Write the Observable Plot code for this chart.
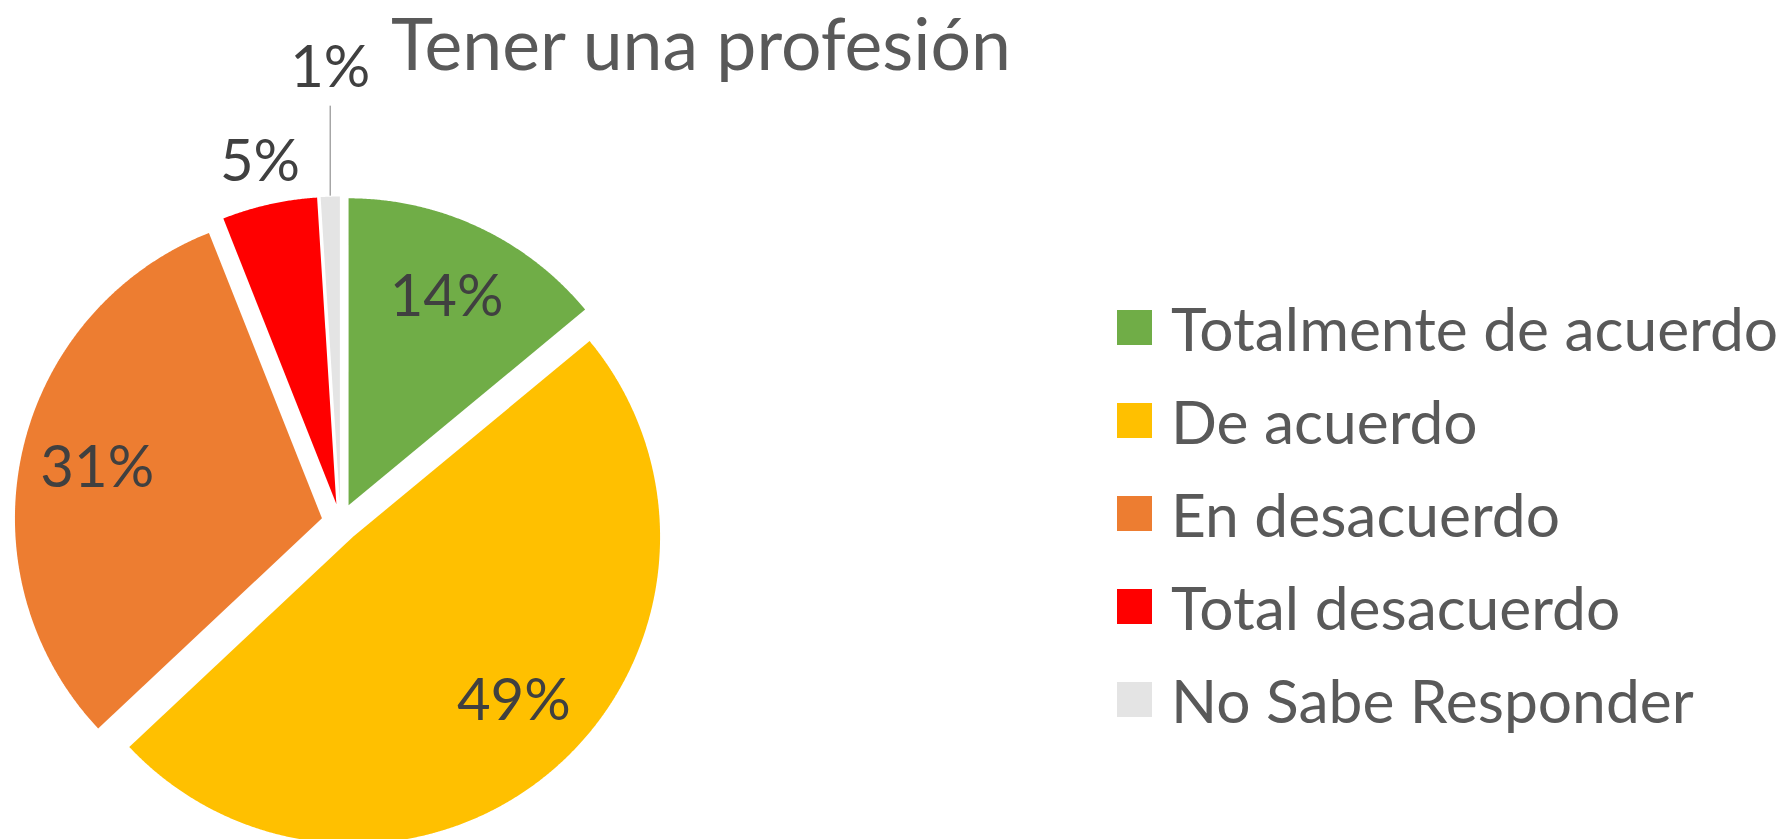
<!DOCTYPE html>
<html>
<head>
<meta charset="utf-8">
<script src="https://cdn.jsdelivr.net/npm/d3@7"></script>
<script src="https://cdn.jsdelivr.net/npm/@observablehq/plot@0.6"></script>
<style>
  html, body { margin: 0; padding: 0; background: #fff; overflow: hidden; }
  #wrap { position: relative; width: 1782px; height: 839px; overflow: hidden; }
  #title { position: absolute; left: 391px; top: 0px; font-family: Lato, sans-serif; font-size: 71.5px; line-height: 1.2; color: #595959; white-space: nowrap; }
  #legend { position: absolute; left: 1117px; top: 281px; width: 665px; }
  #legend .lg-swatch { height: 93px; padding: 0 !important; display: flex; align-items: center; }
  #legend .lg-swatch > svg { margin-right: 19px !important; }
  #legend .lg-label { overflow: visible !important; text-overflow: clip !important; white-space: nowrap; }
  #legend > * { margin: 0 !important; }
</style>
</head>
<body>
<div id="wrap">
  <div id="chart"></div>
  <div id="title">Tener una profesión</div>
  <div id="legend"></div>
</div>
<script>
// ---- data ----
const categories = ["Totalmente de acuerdo", "De acuerdo", "En desacuerdo", "Total desacuerdo", "No Sabe Responder"];
const values = [14, 49, 31, 5, 1];
const labels = ["14%", "49%", "31%", "5%", "1%"];
const colors = ["#70AD47", "#FFC000", "#ED7D31", "#FF0000", "#E4E4E4"];

// ---- layout ----
const W = 1782, H = 839;
const CX = 340, CY = 522, R = 307, EXPLODE = 19;

const rows = categories.map((c, i) => ({cat: c, value: values[i], label: labels[i]}));
const arcs = d3.pie().sort(null).value(d => d.value)(rows);

const pts = [];
const labelPts = [];
const leaders = [];
arcs.forEach((a, i) => {
  const mid = (a.startAngle + a.endAngle) / 2;
  const ax = CX + EXPLODE * Math.sin(mid), ay = CY - EXPLODE * Math.cos(mid);
  pts.push({cat: a.data.cat, x: ax, y: ay});
  const n = Math.max(2, Math.ceil((a.endAngle - a.startAngle) / (0.25 * Math.PI / 180)));
  for (let k = 0; k <= n; k++) {
    const t = a.startAngle + (a.endAngle - a.startAngle) * k / n;
    pts.push({cat: a.data.cat, x: ax + R * Math.sin(t), y: ay - R * Math.cos(t)});
  }
  const share = a.data.value / d3.sum(values);
  if (share >= 0.1) {
    // inside label, slightly rotated toward the slice start for the big slice (as Excel does)
    const la = share > 0.4 ? mid - 0.05 : mid;
    labelPts.push({label: a.data.label, x: ax + 0.75 * R * Math.sin(la), y: ay - 0.75 * R * Math.cos(la)});
  } else if (share >= 0.03) {
    const rr = R + 43;
    labelPts.push({label: a.data.label, x: ax + rr * Math.sin(mid), y: ay - rr * Math.cos(mid)});
  } else {
    const ex = ax + R * Math.sin(mid), ey = ay - R * Math.cos(mid);
    leaders.push({x1: ex, y1: ey - 1, x2: ex, y2: ey - 91});
    labelPts.push({label: a.data.label, x: ex, y: ey - 128});
  }
});

const plot = Plot.plot({
  width: W,
  height: H,
  margin: 0,
  x: {domain: [0, W], range: [0, W], axis: null},
  y: {domain: [0, H], range: [0, H], axis: null},
  color: {domain: categories, range: colors},
  style: {fontFamily: "Lato, sans-serif", background: "#fff"},
  marks: [
    Plot.line(pts, {x: "x", y: "y", z: "cat", fill: "cat", stroke: "none", curve: "linear"}),
    Plot.link(leaders, {x1: "x1", y1: "y1", x2: "x2", y2: "y2", stroke: "#A6A6A6", strokeWidth: 1.5}),
    Plot.text(labelPts, {x: "x", y: "y", text: "label", fontSize: 58, fill: "#404040", textAnchor: "middle", lineAnchor: "middle"})
  ]
});
document.getElementById("chart").appendChild(plot);

const legend = Plot.legend({
  color: {domain: categories, range: colors},
  legend: "swatches",
  columns: 1,
  swatchSize: 35,
  className: "lg",
  style: {fontFamily: "Lato, sans-serif", fontSize: "60.5px", color: "#595959"}
});
document.getElementById("legend").appendChild(legend);
</script>
</body>
</html>
